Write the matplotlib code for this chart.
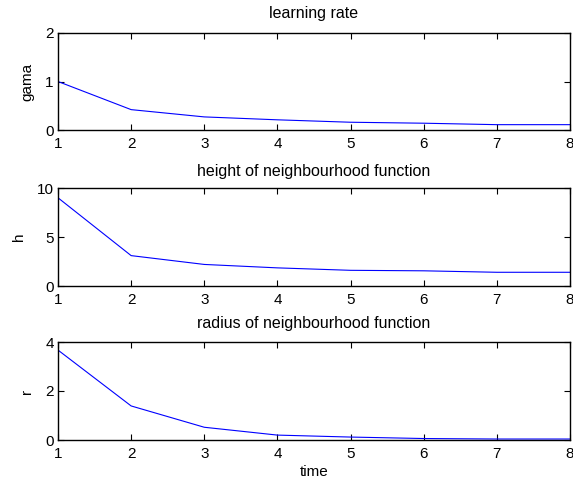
import matplotlib
matplotlib.use("Agg")
import matplotlib.pyplot as plt

plt.rcParams['font.family'] = ['Liberation Sans', 'DejaVu Sans']
plt.rcParams['font.size'] = 11

time = [1, 2, 3, 4, 5, 6, 7, 8]
gama = [1.0, 0.42, 0.27, 0.21, 0.16, 0.14, 0.11, 0.11]
h = [9.0, 3.1, 2.2, 1.85, 1.6, 1.55, 1.4, 1.4]
r = [3.67, 1.39, 0.52, 0.2, 0.12, 0.06, 0.04, 0.04]

titles = ['learning rate', 'height of neighbourhood function', 'radius of neighbourhood function']
ylabels = ['gama', 'h', 'r']
ylims = [(0, 2), (0, 10), (0, 4)]
yticks = [[0, 1, 2], [0, 5, 10], [0, 2, 4]]
series = [gama, h, r]

W, H = 573, 488
fig = plt.figure(figsize=(W / 100, H / 100), dpi=100)

# axes boxes in pixels: (top, bottom)
rows = [(33, 130), (188, 286), (342, 440)]
title_pads = [10.5, 9, 10]
left, right = 58, 570

for i, (top, bot) in enumerate(rows):
    ax = fig.add_axes([left / W, 1 - bot / H, (right - left) / W, (bot - top) / H])
    ax.plot(time, series[i], color='#0000ff', lw=0.8)
    ax.set_xlim(1, 8)
    ax.set_ylim(*ylims[i])
    ax.set_xticks(time)
    ax.set_yticks(yticks[i])
    ax.set_title(titles[i], fontsize=11.5, pad=title_pads[i])
    ax.set_ylabel(ylabels[i], labelpad=8)
    ax.tick_params(direction='in', top=True, right=True, length=4, width=0.8)
    ax.tick_params(axis='x', pad=5)
    ax.tick_params(axis='y', pad=3)
    for s in ax.spines.values():
        s.set_linewidth(1.0)
    if i == 2:
        ax.set_xlabel('time', labelpad=3)

fig.savefig('out.png', dpi=100)
